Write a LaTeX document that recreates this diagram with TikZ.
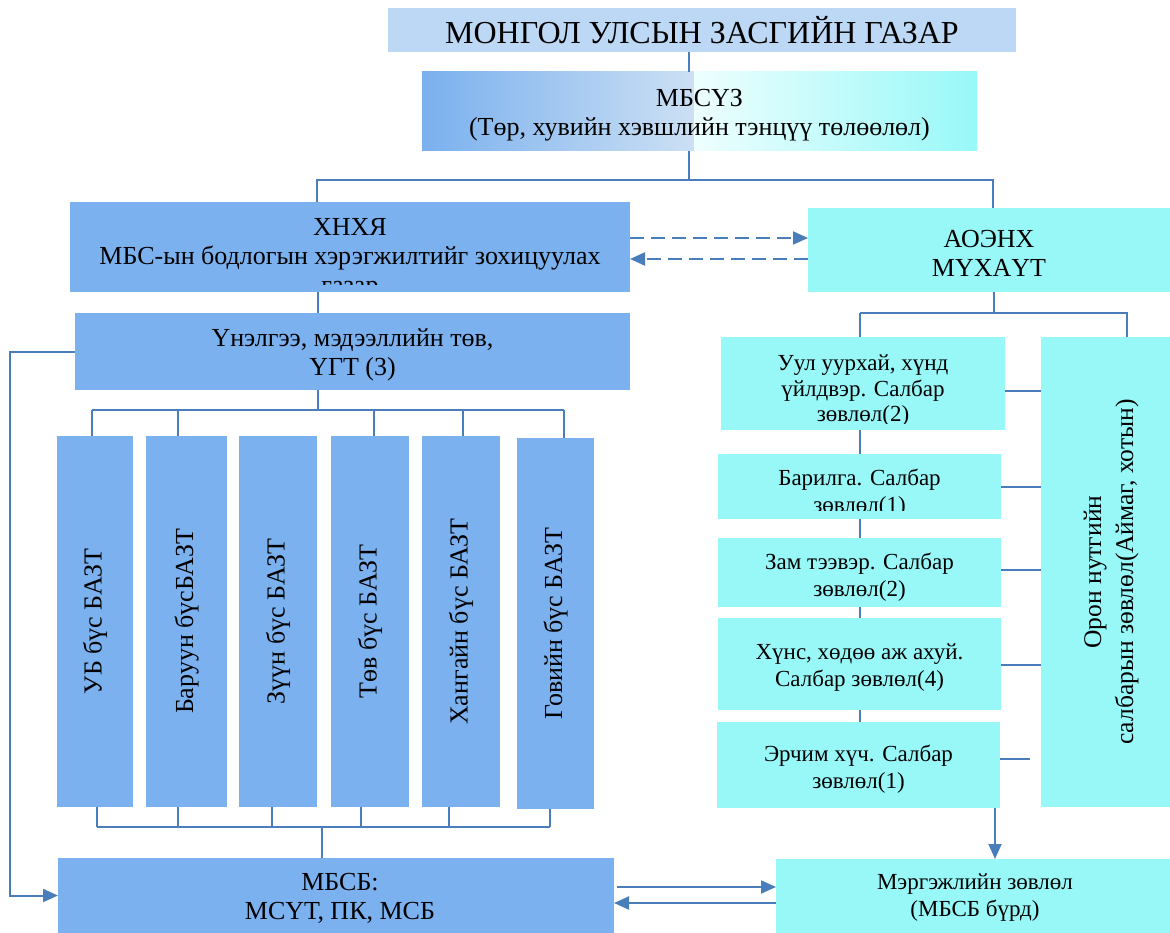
\documentclass[tikz,border=0pt]{standalone}
\usepackage{fontspec}
\setmainfont{Liberation Serif}
\usetikzlibrary{arrows.meta,backgrounds}
\definecolor{bluec}{HTML}{7BB1EF}
\definecolor{cyanc}{HTML}{98F8F8}
\definecolor{titlec}{HTML}{BDD8F5}
\definecolor{linec}{HTML}{4A7EBB}
\definecolor{mbsA}{HTML}{7AB0EE}
\definecolor{mbsB}{HTML}{CCE0F4}
\definecolor{mbsC}{HTML}{EEFEFE}
\newcommand\ftitlesz{\fontsize{32}{36}\selectfont}
\newcommand\fmainsz{\fontsize{26}{29}\selectfont}
\newcommand\fsidesz{\fontsize{23}{27}\selectfont}
\newcommand\fuulsz{\fontsize{23}{25.5}\selectfont}
\newcommand\foronsz{\fontsize{25.5}{32}\selectfont}
\tikzset{
  basebox/.style={draw=none, inner sep=0pt, outer sep=0pt, anchor=north west, align=center, text=black},
  bbox/.style={basebox, fill=bluec},
  cbox/.style={basebox, fill=cyanc},
  txt/.style={align=center, inner sep=0pt, text=black},
  conn/.style={draw=linec, line width=2pt},
  arr/.style={conn, -{Triangle[length=15pt,width=13pt]}},
  darr/.style={arr, dash pattern=on 14pt off 7pt},
}
\begin{document}
\begin{tikzpicture}[x=1pt,y=-1pt]
\path[use as bounding box] (0,0) rectangle (1170,933);

% ---------- boxes ----------
\node[basebox, fill=titlec, minimum width=628pt, minimum height=44pt, font=\ftitlesz] (title) at (388,8) {МОНГОЛ УЛСЫН ЗАСГИЙН ГАЗАР};

\shade[left color=mbsA, right color=mbsB] (422,72) rectangle (694,151);
\shade[left color=mbsC, right color=cyanc] (694,72) rectangle (977,151);
\node[basebox, minimum width=555pt, minimum height=79pt] (mbsuz) at (422,72) {};
\node[txt, font=\fmainsz] (mbsuzt) at (699.5,115) {МБСҮЗ\\(Төр, хувийн хэвшлийн тэнцүү төлөөлөл)};

\node[bbox, minimum width=560pt, minimum height=90pt] (xnxa) at (70,202) {};
\begin{scope}
  \clip (70,208) rectangle (630,285);
  \node[txt, font=\fmainsz] (xnxat) at (350,259) {ХНХЯ\\МБС-ын бодлогын хэрэгжилтийг зохицуулах\\газар};
\end{scope}

\node[cbox, minimum width=362pt, minimum height=84pt] (aoenx) at (808,208) {};
\node[txt, font=\fmainsz] (aoenxt) at (989,253) {АОЭНХ\\МҮХАҮТ};

\node[bbox, minimum width=555pt, minimum height=77pt] (unel) at (75,313) {};
\node[txt, font=\fmainsz] (unelt) at (352.5,355) {Үнэлгээ, мэдээллийн төв,\\ҮГТ (3)};

\node[bbox, minimum width=76pt, minimum height=371pt] (r1) at (57,436) {};
\node[bbox, minimum width=81pt, minimum height=371pt] (r2) at (146,436) {};
\node[bbox, minimum width=78pt, minimum height=371pt] (r3) at (239,436) {};
\node[bbox, minimum width=78pt, minimum height=371pt] (r4) at (331,436) {};
\node[bbox, minimum width=78pt, minimum height=371pt] (r5) at (422,436) {};
\node[bbox, minimum width=77pt, minimum height=371pt] (r6) at (517,438) {};
\node[txt, rotate=90, font=\fmainsz] (r1t) at (r1.center) {УБ бүс БАЗТ};
\node[txt, rotate=90, font=\fmainsz] (r2t) at (r2.center) {Баруун бүсБАЗТ};
\node[txt, rotate=90, font=\fmainsz] (r3t) at (r3.center) {Зүүн бүс БАЗТ};
\node[txt, rotate=90, font=\fmainsz] (r4t) at (r4.center) {Төв бүс БАЗТ};
\node[txt, rotate=90, font=\fmainsz] (r5t) at (r5.center) {Хангайн бүс БАЗТ};
\node[txt, rotate=90, font=\fmainsz] (r6t) at (r6.center) {Говийн бүс БАЗТ};

\node[bbox, minimum width=556pt, minimum height=75pt] (mbsb) at (58,858) {};
\node[txt, font=\fmainsz] (mbsbt) at (340,898) {МБСБ:\\МСҮТ, ПК, МСБ};
\node[cbox, minimum width=394pt, minimum height=74pt] (merg) at (776,859) {};
\node[txt, font=\fsidesz] (mergt) at (975,898) {Мэргэжлийн зөвлөл\\(МБСБ бүрд)};

\node[cbox, minimum width=284pt, minimum height=93pt] (uul) at (721,337) {};
\begin{scope}
  \clip (721,340) rectangle (1005,423);
  \node[txt, font=\fuulsz] (uult) at (863,391) {Уул уурхай, хүнд\\үйлдвэр. Салбар\\зөвлөл(2)};
\end{scope}
\node[cbox, minimum width=283pt, minimum height=65pt] (bar) at (718,454) {};
\begin{scope}
  \clip (718,456) rectangle (1001,510);
  \node[txt, font=\fsidesz] (bart) at (859.5,493) {Барилга. Салбар\\зөвлөл(1)};
\end{scope}
\node[cbox, minimum width=283pt, minimum height=69pt] (zam) at (718,538) {};
\node[txt, font=\fsidesz] (zamt) at (859.5,577) {Зам тээвэр. Салбар\\зөвлөл(2)};
\node[cbox, minimum width=283pt, minimum height=92pt] (huns) at (718,618) {};
\node[txt, font=\fsidesz] (hunst) at (859.5,668) {Хүнс, хөдөө аж ахуй.\\Салбар зөвлөл(4)};
\node[cbox, minimum width=283pt, minimum height=86pt] (erch) at (717,722) {};
\node[txt, font=\fsidesz] (ercht) at (858.5,769) {Эрчим хүч. Салбар\\зөвлөл(1)};
\node[cbox, minimum width=129pt, minimum height=470pt] (oron) at (1041,337) {};
\node[txt, rotate=90, font=\foronsz] (oront) at (1111,572) {Орон нутгийн\\салбарын зөвлөл(Аймаг, хотын)};

% ---------- helper coordinates ----------
\coordinate (hTop) at (689,180);
\coordinate (hL) at (317,180);
\coordinate (hR) at (993,180);
\coordinate (v1) at (318,300);
\coordinate (h2) at (318,410);
\coordinate (t1) at (92,410);
\coordinate (t2) at (178,410);
\coordinate (t4) at (374,410);
\coordinate (t5) at (463,410);
\coordinate (t6) at (564,410);
\coordinate (b1) at (97,827);
\coordinate (b2) at (178,827);
\coordinate (b3) at (272,827);
\coordinate (b4) at (361,827);
\coordinate (b5) at (449,827);
\coordinate (b6) at (550,827);
\coordinate (bm) at (322,827);
\coordinate (a1) at (994,313);
\coordinate (aL) at (860,313);
\coordinate (aR) at (1127,313);
\coordinate (s1) at (1020,391);
\coordinate (s2) at (1020,487);
\coordinate (s3) at (1020,570);
\coordinate (s4) at (1020,665);
\coordinate (s5) at (1030,759);
\coordinate (d1) at (995,0);
\coordinate (lp) at (10,352);

% ---------- connectors ----------
\draw[conn] (title.south -| hTop) -- (mbsuz.north -| hTop);
\draw[conn] (mbsuz.south -| hTop) -- (hTop);
\draw[conn] (xnxa.north -| hL) -- (hL) -- (hR) -- (aoenx.north -| hR);

\draw[darr] ([yshift=9pt]xnxa.east) -- ([yshift=9pt]xnxa.east -| aoenx.west);
\draw[darr] ([yshift=-12pt]xnxa.east -| aoenx.west) -- ([yshift=-12pt]xnxa.east);

\draw[conn] (xnxa.south -| v1) -- (unel.north -| v1);

\draw[conn] (unel.south -| h2) -- (h2);
\draw[conn] (t1) -- (t6);
\draw[conn] (t1) -- (t1 |- r1.north);
\draw[conn] (t2) -- (t2 |- r2.north);
\draw[conn] (t4) -- (t4 |- r4.north);
\draw[conn] (t5) -- (t5 |- r5.north);
\draw[conn] (t6) -- (t6 |- r6.north);

\draw[conn] (b1) -- (b6);
\draw[conn] (b1 |- r1.south) -- (b1);
\draw[conn] (b2 |- r2.south) -- (b2);
\draw[conn] (b3 |- r3.south) -- (b3);
\draw[conn] (b4 |- r4.south) -- (b4);
\draw[conn] (b5 |- r5.south) -- (b5);
\draw[conn] (b6 |- r6.south) -- (b6);
\draw[conn] (bm) -- (bm |- mbsb.north);

\draw[arr] (unel.west |- lp) -- (lp) |- (mbsb.west);

\draw[arr] ([xshift=3pt,yshift=8.5pt]mbsb.east) -- ([yshift=8.5pt]mbsb.east -| merg.west);
\draw[arr] ([yshift=-7.5pt]mbsb.east -| merg.west) -- ([yshift=-7.5pt]mbsb.east);

\draw[conn] (aoenx.south -| a1) -- (a1);
\draw[conn] (aL) -- (aR) -- (aR |- oron.north);
\begin{scope}[on background layer]
  \draw[conn] (aL) -- (aL |- erch.north);
\end{scope}
\draw[conn] (uul.east |- s1) -- (oron.west |- s1);
\draw[conn] (bar.east |- s2) -- (oron.west |- s2);
\draw[conn] (zam.east |- s3) -- (oron.west |- s3);
\draw[conn] (huns.east |- s4) -- (oron.west |- s4);
\draw[conn] (erch.east |- s5) -- (s5);
\draw[arr] (erch.south -| d1) -- (merg.north -| d1);
\end{tikzpicture}
\end{document}
